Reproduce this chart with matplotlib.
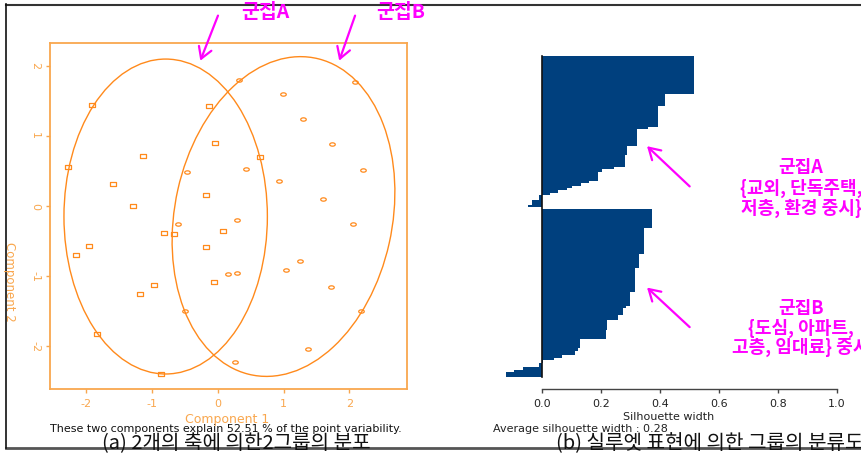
import numpy as np
import matplotlib
matplotlib.use("Agg")
import matplotlib.pyplot as plt
from matplotlib.patches import Ellipse, FancyArrowPatch, Rectangle
from matplotlib.path import Path
from matplotlib.lines import Line2D

plt.rcParams['font.family'] = ['DejaVu Sans', 'Noto Sans CJK KR']
KR = ['Noto Sans CJK KR', 'DejaVu Sans']

W, H = 862, 457

# clusplot scores: cluster A (squares) and cluster B (circles)
a_comp1 = [-1.91, -2.27, -1.14, -1.59, -1.29, -0.13, -0.04, 0.64, -0.17, -0.82,
           -0.67, 0.08, -0.17, -1.95, -2.15, -0.97, -1.18, -0.05, -1.83, -0.86]
a_comp2 = [1.44, 0.56, 0.72, 0.31, 0.00, 1.43, 0.90, 0.70, 0.16, -0.38,
           -0.40, -0.35, -0.59, -0.57, -0.70, -1.13, -1.25, -1.09, -1.83, -2.39]
b_comp1 = [0.32, 2.09, 0.99, 1.29, 1.74, 2.21, -0.47, 0.43, 0.93, 1.60, -0.61,
           0.30, 2.06, 0.15, 0.30, 1.04, 1.25, 1.72, -0.50, 2.17, 1.37, 0.27]
b_comp2 = [1.79, 1.77, 1.59, 1.24, 0.89, 0.52, 0.48, 0.53, 0.35, 0.10, -0.25,
           -0.20, -0.25, -0.97, -0.95, -0.91, -0.79, -1.16, -1.50, -1.50, -2.04, -2.22]

# spanning ellipses (centre x, centre y, width, height, angle)
ellipse_a = [-0.79, -0.15, 3.09, 4.49, 0.0]
ellipse_b = [1.00, -0.15, 3.30, 4.62, -13.4]

# silhouette widths, sorted within cluster: value and number of observations
sil_a_width = [0.517, 0.418, 0.395, 0.360, 0.324, 0.289, 0.282, 0.245, 0.204, 0.190,
               0.160, 0.132, 0.102, 0.085, 0.056, 0.028, -0.009, -0.032, -0.047]
sil_a_count = [16, 5, 9, 1, 7, 4, 5, 1, 1, 4, 1, 1, 1, 1, 1, 1, 2, 2, 1]
sil_b_width = [0.375, 0.346, 0.331, 0.316, 0.299, 0.286, 0.277, 0.257, 0.222, 0.218,
               0.130, 0.124, 0.114, 0.069, 0.042, 0.006, -0.008, -0.063, -0.093, -0.122]
sil_b_count = [8, 11, 6, 10, 6, 1, 3, 2, 4, 4, 4, 1, 2, 1, 1, 1, 2, 1, 1, 2]

sil_ticks = [0.0, 0.2, 0.4, 0.6, 0.8, 1.0]
pca_ticks = [-2, -1, 0, 1, 2]
explained = 52.51


def fx(x):
    return x / W


def fy(y):
    return 1 - y / H


def rect(l, t, r, b):
    return [l / W, 1 - b / H, (r - l) / W, (b - t) / H]


ORANGE = '#FF8A1C'
ORANGE_LT = '#F9A74E'
MAGENTA = '#FF00FF'
NAVY = '#00407E'

fig = plt.figure(figsize=(W / 100, H / 100), dpi=100)

# ---- (a) cluster plot ----
ax = fig.add_axes(rect(50, 43, 407, 389))
ax.set_xlim(-2.547, 2.876)
ax.set_ylim(-2.609, 2.324)

box = Path([(-1, -0.62), (1, -0.62), (1, 0.62), (-1, 0.62), (-1, -0.62)],
           [Path.MOVETO, Path.LINETO, Path.LINETO, Path.LINETO, Path.CLOSEPOLY])
t = np.linspace(0, 2 * np.pi, 40)
oval = Path(np.column_stack([np.cos(t), 0.6 * np.sin(t)]))

ax.plot(a_comp1, a_comp2, ls='none', marker=box, ms=4.6, mfc='none',
        mec=ORANGE, mew=0.9)
ax.plot(b_comp1, b_comp2, ls='none', marker=oval, ms=4.0, mfc='none',
        mec=ORANGE, mew=0.9)

for cx, cy, w, h, ang in (ellipse_a, ellipse_b):
    ax.add_patch(Ellipse((cx, cy), w, h, angle=ang, fill=False,
                         ec=ORANGE, lw=1.0))

for s in ax.spines.values():
    s.set_color(ORANGE_LT)
    s.set_linewidth(1.3)
ax.set_xticks(pca_ticks)
ax.set_yticks(pca_ticks)
ax.set_xticklabels([str(v) for v in pca_ticks])
ax.set_yticklabels([str(v) for v in pca_ticks], rotation=270, va='center')
ax.tick_params(colors=ORANGE_LT, labelsize=8, length=3, width=1.0, pad=4)

fig.text(fx(226.7), fy(419.5), 'Component 1', color=ORANGE_LT, fontsize=9,
         ha='center', va='center')
fig.text(fx(9), fy(282), 'Component 2', color=ORANGE_LT, fontsize=8.5,
         rotation=270, ha='center', va='center')
fig.text(fx(50), fy(428.5),
         'These two components explain %.2f %% of the point variability.' % explained,
         fontsize=8, color='#111111', ha='left', va='center')

# ---- (b) silhouette plot ----
sa = np.repeat(sil_a_width, sil_a_count)
sb = np.repeat(sil_b_width, sil_b_count)
pos_a = np.arange(len(sa)) + 0.5
pos_b = len(sa) + 1 + np.arange(len(sb)) + 0.5
n_slots = len(sa) + 1 + len(sb)
px_slot = (376.7 - 56) / n_slots

bx = fig.add_axes(rect(480, 50, 850, 389.3))
bx.barh(pos_a, sa, height=1.0, color=NAVY, lw=0)
bx.barh(pos_b, sb, height=1.0, color=NAVY, lw=0)
bx.plot([0, 0], [0, n_slots], color='#111111', lw=1.2)
bx.set_xlim((480 - 541.7) / 295.3, (850 - 541.7) / 295.3)
bx.set_ylim((389.3 - 56) / px_slot, (50 - 56) / px_slot)
for k in ('top', 'right', 'left'):
    bx.spines[k].set_visible(False)
bx.spines['bottom'].set_bounds(0, 1)
bx.spines['bottom'].set_color('#444444')
bx.spines['bottom'].set_linewidth(1.0)
bx.set_yticks([])
bx.set_xticks(sil_ticks)
bx.set_xticklabels(['%.1f' % v for v in sil_ticks])
bx.tick_params(axis='x', colors='#444444', labelcolor='#222222',
               labelsize=8, length=3, width=1.0, pad=4)

avg = np.mean(np.concatenate([sa, sb]))
fig.text(fx(669), fy(416.7), 'Silhouette width', fontsize=8, color='#222222',
         ha='center', va='center')
fig.text(fx(493), fy(428.5), 'Average silhouette width : %.2f' % avg,
         fontsize=8, color='#222222', ha='left', va='center')

# ---- annotations ----
fig.text(fx(265), fy(12), '군집A', family=KR, fontsize=14, fontweight='bold',
         color=MAGENTA, ha='center', va='center')
fig.text(fx(401), fy(12), '군집B', family=KR, fontsize=14, fontweight='bold',
         color=MAGENTA, ha='center', va='center')

notes = [(168, '군집A'), (188.5, '{교외, 단독주택,'), (208.5, '저층, 환경 중시}'),
         (308.5, '군집B'), (328, '{도심, 아파트,'), (347.5, '고층, 임대료} 중시')]
for y, s in notes:
    fig.text(fx(801), fy(y), s, family=KR, fontsize=13, fontweight='bold',
             color=MAGENTA, ha='center', va='center')

arrows = [((219, 13), (199.3, 63.3)), ((356, 13), (338.3, 63.3)),
          ((691.7, 188.3), (645, 144.3)), ((691.7, 329), (645, 285.7))]
for (x0, y0), (x1, y1) in arrows:
    fig.add_artist(FancyArrowPatch((fx(x0), fy(y0)), (fx(x1), fy(y1)),
                                   transform=fig.transFigure,
                                   arrowstyle='->,head_length=0.5,head_width=0.3',
                                   mutation_scale=16, color=MAGENTA, lw=1.6))

# ---- frame and captions ----
fig.add_artist(Rectangle((0, 0), 1, fy(450), transform=fig.transFigure,
                         fc='white', ec='none', zorder=1))
fig.add_artist(Line2D([fx(6), 1], [fy(448), fy(448)], color='#555555',
                      lw=2.0, zorder=2))
fig.add_artist(Line2D([fx(6), 1], [fy(4.5), fy(4.5)], color='#333333', lw=1.5))
fig.add_artist(Line2D([fx(6.5), fx(6.5)], [fy(4), fy(448)], color='#111111',
                      lw=1.2))

fig.text(fx(236), fy(444), '(a) 2개의 축에 의한2그룹의 분포', family=KR,
         fontsize=14.5, color='#111111', ha='center', va='center', zorder=3)
fig.text(fx(556), fy(444), '(b) 실루엣 표현에 의한 그룹의 분류도', family=KR,
         fontsize=14.5, color='#111111', ha='left', va='center', zorder=3)

fig.savefig('out.png', dpi=100)
